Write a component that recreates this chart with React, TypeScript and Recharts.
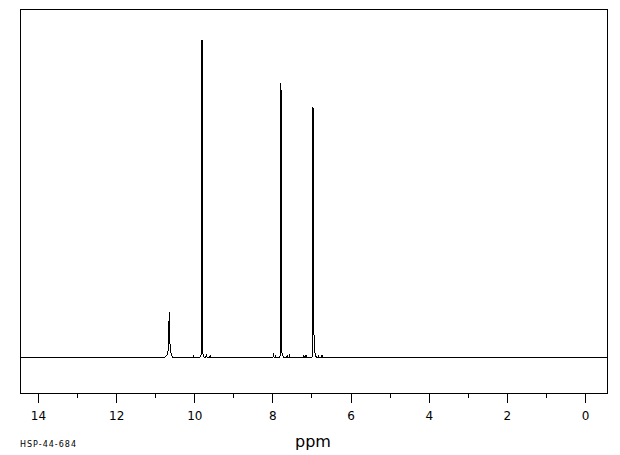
import React from "react"
import { LineChart, Line, XAxis, YAxis, ReferenceArea } from "recharts"

// chemical shift (ppm) and intensity
const shift = [
  14.47, 10.76, 10.73, 10.7, 10.675, 10.655, 10.645, 10.625, 10.6, 10.57,
  10.04, 10.03, 10.02,
  9.87, 9.84, 9.825, 9.815, 9.808, 9.8, 9.78, 9.76,
  9.72, 9.705, 9.69, 9.615, 9.603, 9.59,
  8.0, 7.985, 7.97, 7.945, 7.935, 7.925,
  7.82, 7.81, 7.8, 7.793, 7.786, 7.775, 7.765, 7.73,
  7.645, 7.635, 7.625, 7.585, 7.575, 7.565,
  7.225, 7.213, 7.2, 7.165, 7.152, 7.14,
  7.0, 6.99, 6.978, 6.972, 6.966, 6.955, 6.947, 6.93, 6.91, 6.89,
  6.84, 6.829, 6.82, 6.755, 6.742, 6.73,
  -0.55,
]
const intensity = [
  0, 0, 1, 3, 8, 45, 19, 8, 2, 0,
  0, 2, 0,
  0, 2, 5, 317, 24, 6, 1, 0,
  0, 2, 0, 0, 2, 0,
  0, 2, 0, 0, 2, 0,
  0, 4, 274, 20, 267, 10, 2, 0,
  0, 2, 0, 0, 1.5, 0,
  0, 2, 0, 0, 2, 0,
  0, 4, 250, 60, 249, 32, 20, 5, 1, 0,
  0, 2, 0, 0, 2, 0,
  0,
]
const axisTicks = [14, 13, 12, 11, 10, 9, 8, 7, 6, 5, 4, 3, 2, 1, 0]
const xDomain = [-0.5503, 14.4735]
const yDomain = [-36, 348]

const data = shift.map((s, i) => ({ ppm: s, y: intensity[i] }))

const font = "'DejaVu Sans', sans-serif"

function PpmTick(props: any) {
  const { x, y, payload } = props
  const major = payload.value % 2 === 0
  return (
    <g>
      <line x1={x} x2={x} y1={y} y2={y + (major ? 10 : 5)} stroke="#000" shapeRendering="crispEdges" />
      {major && (
        <text x={x} y={y + 26.5} textAnchor="middle" fontSize={12} fontFamily={font} fill="#000">
          {payload.value}
        </text>
      )}
    </g>
  )
}

export default function App() {
  return (
    <div style={{ position: "absolute", left: 0, top: 0, width: 620, height: 455, background: "#fff" }}>
      <LineChart width={620} height={455} data={data} margin={{ top: 9, right: 13, left: 20, bottom: 0 }}>
        <XAxis
          dataKey="ppm"
          type="number"
          domain={xDomain}
          allowDataOverflow
          reversed
          ticks={axisTicks}
          interval={0}
          tick={<PpmTick />}
          tickLine={false}
          tickSize={0}
          tickMargin={0}
          height={62}
          axisLine={{ stroke: "#000", shapeRendering: "crispEdges" }}
        />
        <YAxis
          type="number"
          domain={yDomain}
          allowDataOverflow
          width={0}
          tick={false}
          tickLine={false}
          axisLine={{ stroke: "#000", shapeRendering: "crispEdges" }}
        />
        {/* frame around the plot area */}
        <ReferenceArea
          x1={xDomain[1]}
          x2={xDomain[0]}
          y1={yDomain[0]}
          y2={yDomain[1]}
          fill="none"
          fillOpacity={0}
          stroke="#000"
          strokeOpacity={1}
          strokeWidth={1}
          ifOverflow="visible"
          shapeRendering="crispEdges"
        />
        <Line
          type="linear"
          dataKey="y"
          stroke="#000"
          strokeWidth={1}
          dot={false}
          isAnimationActive={false}
          shapeRendering="crispEdges"
        />
      </LineChart>
      <svg width={620} height={455} style={{ position: "absolute", left: 0, top: 0, pointerEvents: "none" }}>
        <text x={313} y={447} textAnchor="middle" fontSize={16} fontFamily={font} fill="#000">
          ppm
        </text>
        <text x={20} y={447} fontSize={8} letterSpacing={1} fontFamily={font} fill="#000">
          HSP-44-684
        </text>
      </svg>
    </div>
  )
}
